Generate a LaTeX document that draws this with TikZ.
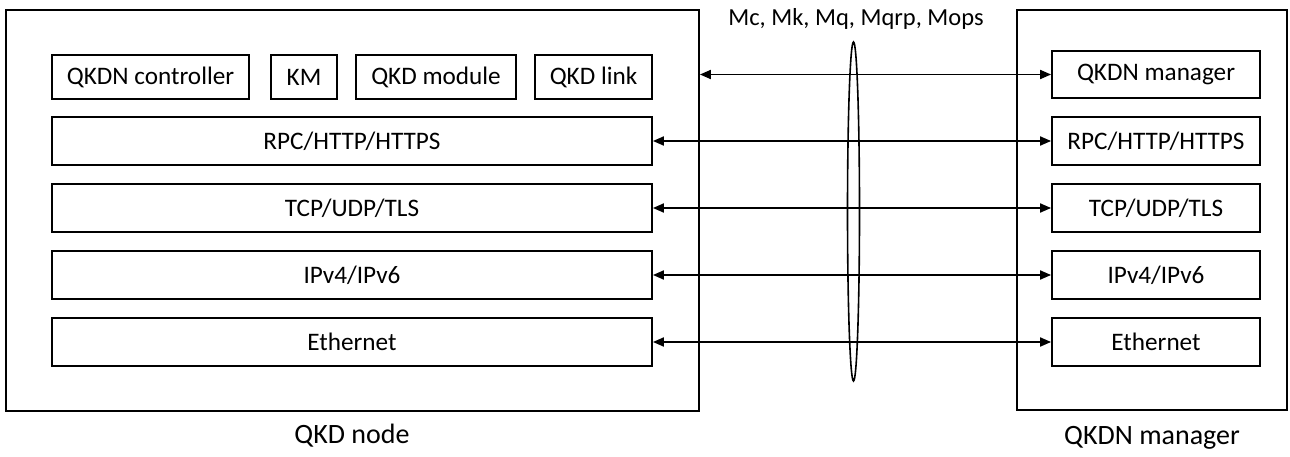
\documentclass[tikz,border=0pt]{standalone}
\usepackage{fontspec}
\setmainfont{Carlito}
\usetikzlibrary{arrows.meta,shapes.geometric}

\tikzset{
  box/.style={draw, line width=1.8pt, inner sep=0pt, minimum height=48pt,
              font=\fontsize{25.2}{28}\selectfont},
  frame/.style={draw, line width=1.8pt, inner sep=0pt},
  link/.style={line width=1.8pt, {Triangle[length=11pt,width=9pt]}-{Triangle[length=11pt,width=9pt]}},
  caption/.style={font=\fontsize{28}{32}\selectfont, inner sep=0pt},
  iflabel/.style={font=\fontsize{24.5}{28}\selectfont, inner sep=0pt}
}

\begin{document}
\begin{tikzpicture}[x=1pt,y=-1pt]
  \useasboundingbox (0,0) rectangle (1290,457);

  % outer frames
  \node[frame, minimum width=693pt, minimum height=401pt] (node) at (352.5,210.5) {};
  \node[frame, minimum width=270pt, minimum height=400pt] (mgrframe) at (1152,210) {};

  % QKD node: top row of functional blocks
  \node[box, minimum width=197pt, minimum height=44pt] (ctrl) at (150.5,77) {QKDN controller};
  \node[box, minimum width=66pt,  minimum height=44pt] (km)   at (304,77)   {KM};
  \node[box, minimum width=160pt, minimum height=44pt] (mod)  at (436,77)   {QKD module};
  \node[box, minimum width=117pt, minimum height=44pt] (lnk)  at (593.5,77) {QKD link};

  % QKD node: protocol layers
  \node[box, minimum width=600pt] (lrpc) at (352,141) {RPC/HTTP/HTTPS};
  \node[box, minimum width=600pt] (ltcp) at (352,208) {TCP/UDP/TLS};
  \node[box, minimum width=600pt] (lip)  at (352,275) {IPv4/IPv6};
  \node[box, minimum width=600pt] (leth) at (352,342) {Ethernet};

  % QKDN manager stack
  \node[box, minimum width=208pt, minimum height=47pt] (mgr) at (1156,74.5) {QKDN manager};
  \node[box, minimum width=208pt] (rrpc) at (1156,141) {RPC/HTTP/HTTPS};
  \node[box, minimum width=208pt] (rtcp) at (1156,208) {TCP/UDP/TLS};
  \node[box, minimum width=208pt] (rip)  at (1156,275) {IPv4/IPv6};
  \node[box, minimum width=208pt] (reth) at (1156,342) {Ethernet};

  % interfaces between the two sides
  \draw[link] (node.east |- mgr.west) -- (mgr.west);
  \draw[link] (lrpc.east) -- (rrpc.west);
  \draw[link] (ltcp.east) -- (rtcp.west);
  \draw[link] (lip.east)  -- (rip.west);
  \draw[link] (leth.east) -- (reth.west);

  % bundle of reference points
  \node[draw, line width=1.6pt, ellipse, inner sep=0pt, minimum width=12pt, minimum height=339pt] (bundle) at (853.5,211.5) {};
  \node[iflabel] (ifs) at (856,19) {Mc, Mk, Mq, Mqrp, Mops};

  % captions
  \node[caption] (capnode) at (352,436) {QKD node};
  \node[caption] (capmgr)  at (1152,438) {QKDN manager};
\end{tikzpicture}
\end{document}
